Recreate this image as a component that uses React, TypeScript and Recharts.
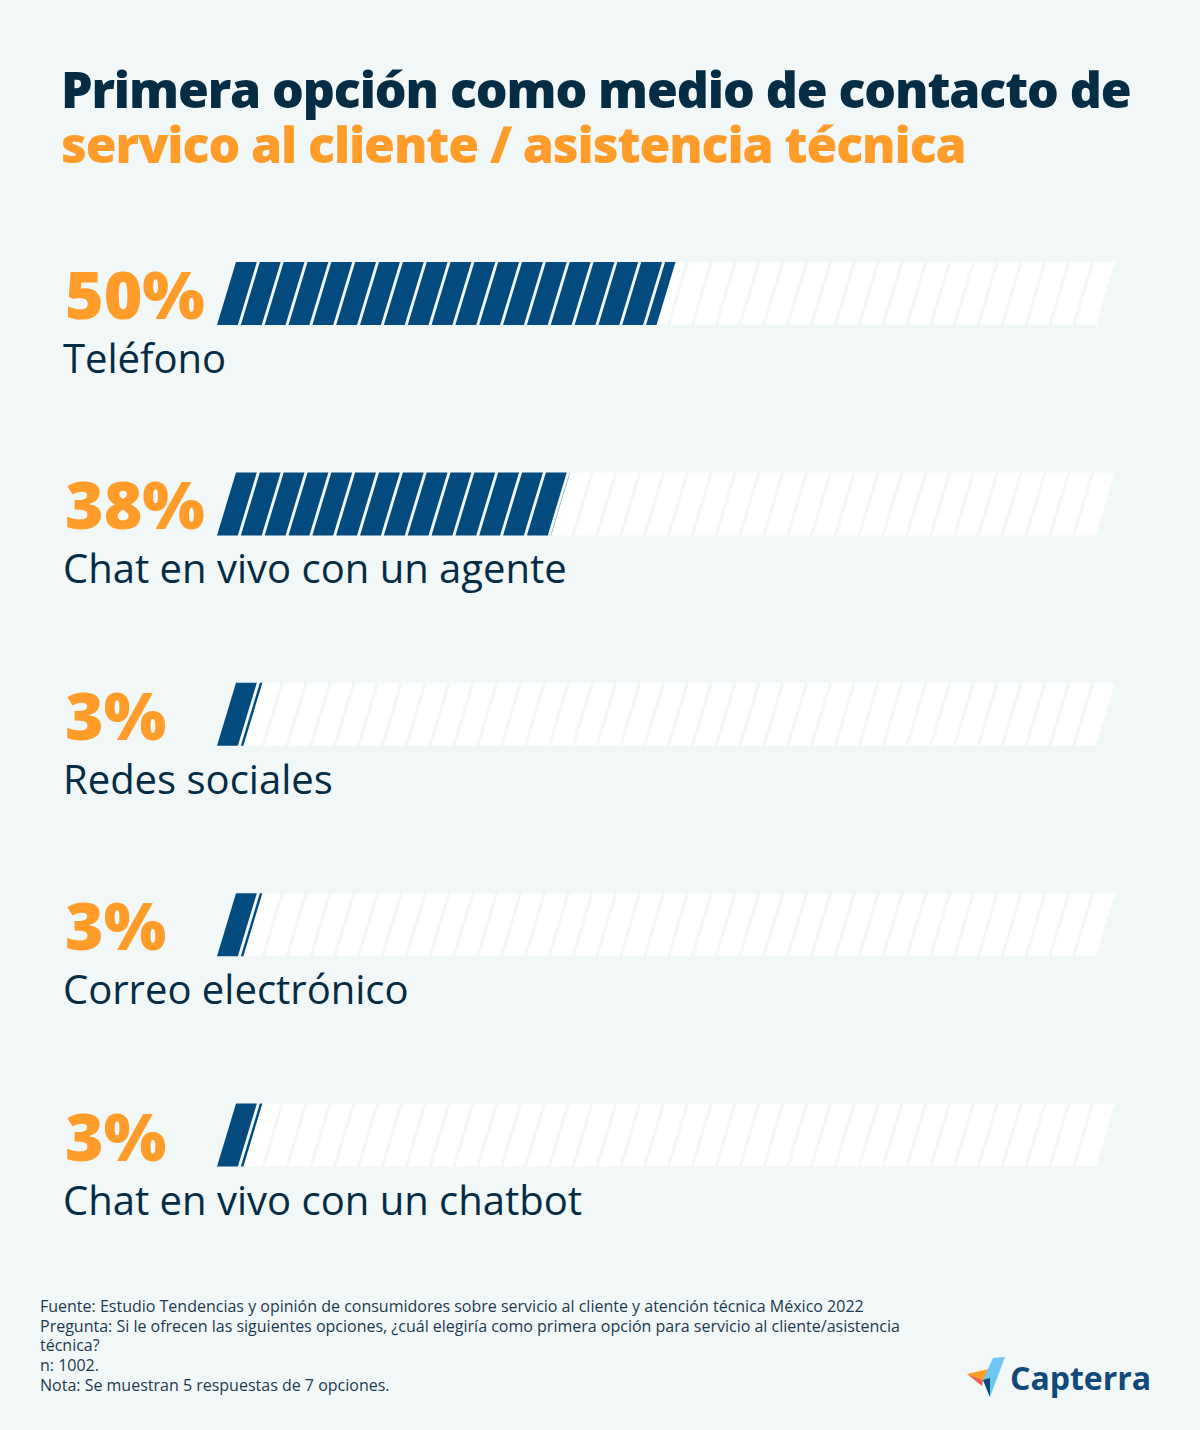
import React from 'react';
import { BarChart, Bar, XAxis, YAxis, LabelList } from 'recharts';

const categories = [
  'Teléfono',
  'Chat en vivo con un agente',
  'Redes sociales',
  'Correo electrónico',
  'Chat en vivo con un chatbot',
];
const percentages = [50, 38, 3, 3, 3];

const footnotes = [
  'Fuente: Estudio Tendencias y opinión de consumidores sobre servicio al cliente y atención técnica México 2022',
  'Pregunta: Si le ofrecen las siguientes opciones, ¿cuál elegiría como primera opción para servicio al cliente/asistencia',
  'técnica?',
  'n: 1002.',
  'Nota: Se muestran 5 respuestas de 7 opciones.',
];

const data = categories.map((name, i) => ({ name, value: percentages[i] }));

const NAVY = '#052c45';
const ORANGE = '#ff9c2a';
const BAR = '#034b7e';
const BG = '#f2f7f7';
const FONT = '"Open Sans", "Noto Sans", sans-serif';

const SLANT = 19;
const COUNT = 37;
const GAP = 3;

// slanted stripes, clipped at `end` (measured on the top edge)
function stripes(x: number, y: number, w: number, h: number, end: number, fill: string) {
  const step = (w - SLANT + GAP) / COUNT;
  const out: React.ReactNode[] = [];
  for (let i = 0; i < COUNT; i++) {
    const xs = x + SLANT + i * step;
    if (xs >= end) break;
    const r = Math.min(xs + step - GAP, end);
    out.push(
      <polygon
        key={i}
        points={`${xs},${y} ${r},${y} ${r - SLANT},${y + h} ${xs - SLANT},${y + h}`}
        fill={fill}
      />
    );
  }
  return out;
}

const Track = (props: any) => {
  const { x, y, width, height } = props;
  return <g>{stripes(x, y, width, height, x + width, '#ffffff')}</g>;
};

const Filled = (props: any) => {
  const { x, y, width, height, payload, background } = props;
  const v = payload?.value ?? 0;
  const full = background?.width ?? (v ? (width * 100) / v : width);
  const end = x + SLANT + (v / 100) * (full - SLANT);
  return <g>{stripes(x, y, full, height, end, BAR)}</g>;
};

const PercentLabel = (props: any) => {
  const { x, y, height, value } = props;
  return (
    <text x={x - 152} y={y + height - 6} fill={ORANGE} fontSize={66} fontWeight={800} fontFamily={FONT}>
      {value}%
    </text>
  );
};

const NameLabel = (props: any) => {
  const { x, y, height, value } = props;
  return (
    <text x={x - 154} y={y + height + 48} fill={NAVY} fontSize={40} fontFamily={FONT}>
      {value}
    </text>
  );
};

export default function App() {
  return (
    <div style={{ position: 'relative', width: 1200, height: 1430, background: BG, fontFamily: FONT, overflow: 'hidden' }}>
      <style>{'body{margin:0}'}</style>
      <div
        style={{
          position: 'absolute',
          left: 61,
          top: 62,
          fontSize: 50,
          fontWeight: 800,
          letterSpacing: '-1.1px',
          lineHeight: '55px',
          color: NAVY,
          whiteSpace: 'nowrap',
        }}
      >
        <div>Primera opción como medio de contacto de</div>
        <div style={{ color: ORANGE }}>servico al cliente / asistencia técnica</div>
      </div>
      <div style={{ position: 'absolute', left: 0, top: 0 }}>
        <BarChart
          width={1200}
          height={1240}
          data={data}
          layout="vertical"
          margin={{ top: 188, right: 85, bottom: 0, left: 217 }}
        >
          <XAxis type="number" domain={[0, 100]} hide />
          <YAxis type="category" dataKey="name" hide width={0} />
          <Bar
            dataKey="value"
            barSize={63}
            isAnimationActive={false}
            background={(p: any) => <Track key={`bg-${p.index}`} {...p} />}
            shape={(p: any) => <Filled {...p} />}
          >
            <LabelList dataKey="value" content={<PercentLabel />} />
            <LabelList dataKey="name" content={<NameLabel />} />
          </Bar>
        </BarChart>
      </div>
      <div style={{ position: 'absolute', left: 40, top: 1297, fontSize: 16, lineHeight: '19.7px', color: '#1c3a50' }}>
        {footnotes.map((t, i) => (
          <div key={i}>{t}</div>
        ))}
      </div>
      <svg style={{ position: 'absolute', left: 960, top: 1350 }} width={200} height={60}>
        <polygon points="7,24 33,18 23,30" fill="#ff9d28" />
        <polygon points="7,24 23,30 22,36" fill="#f15c4f" />
        <polygon points="33,8 45,7 30,47 23,30" fill="#6cc6ef" />
        <polygon points="23,30 30,47 30,28" fill="#0a4a79" />
        <text x={50} y={40} fontSize={32} fontWeight={700} fill="#0f4a7a" fontFamily={FONT}>
          Capterra
        </text>
      </svg>
    </div>
  );
}
